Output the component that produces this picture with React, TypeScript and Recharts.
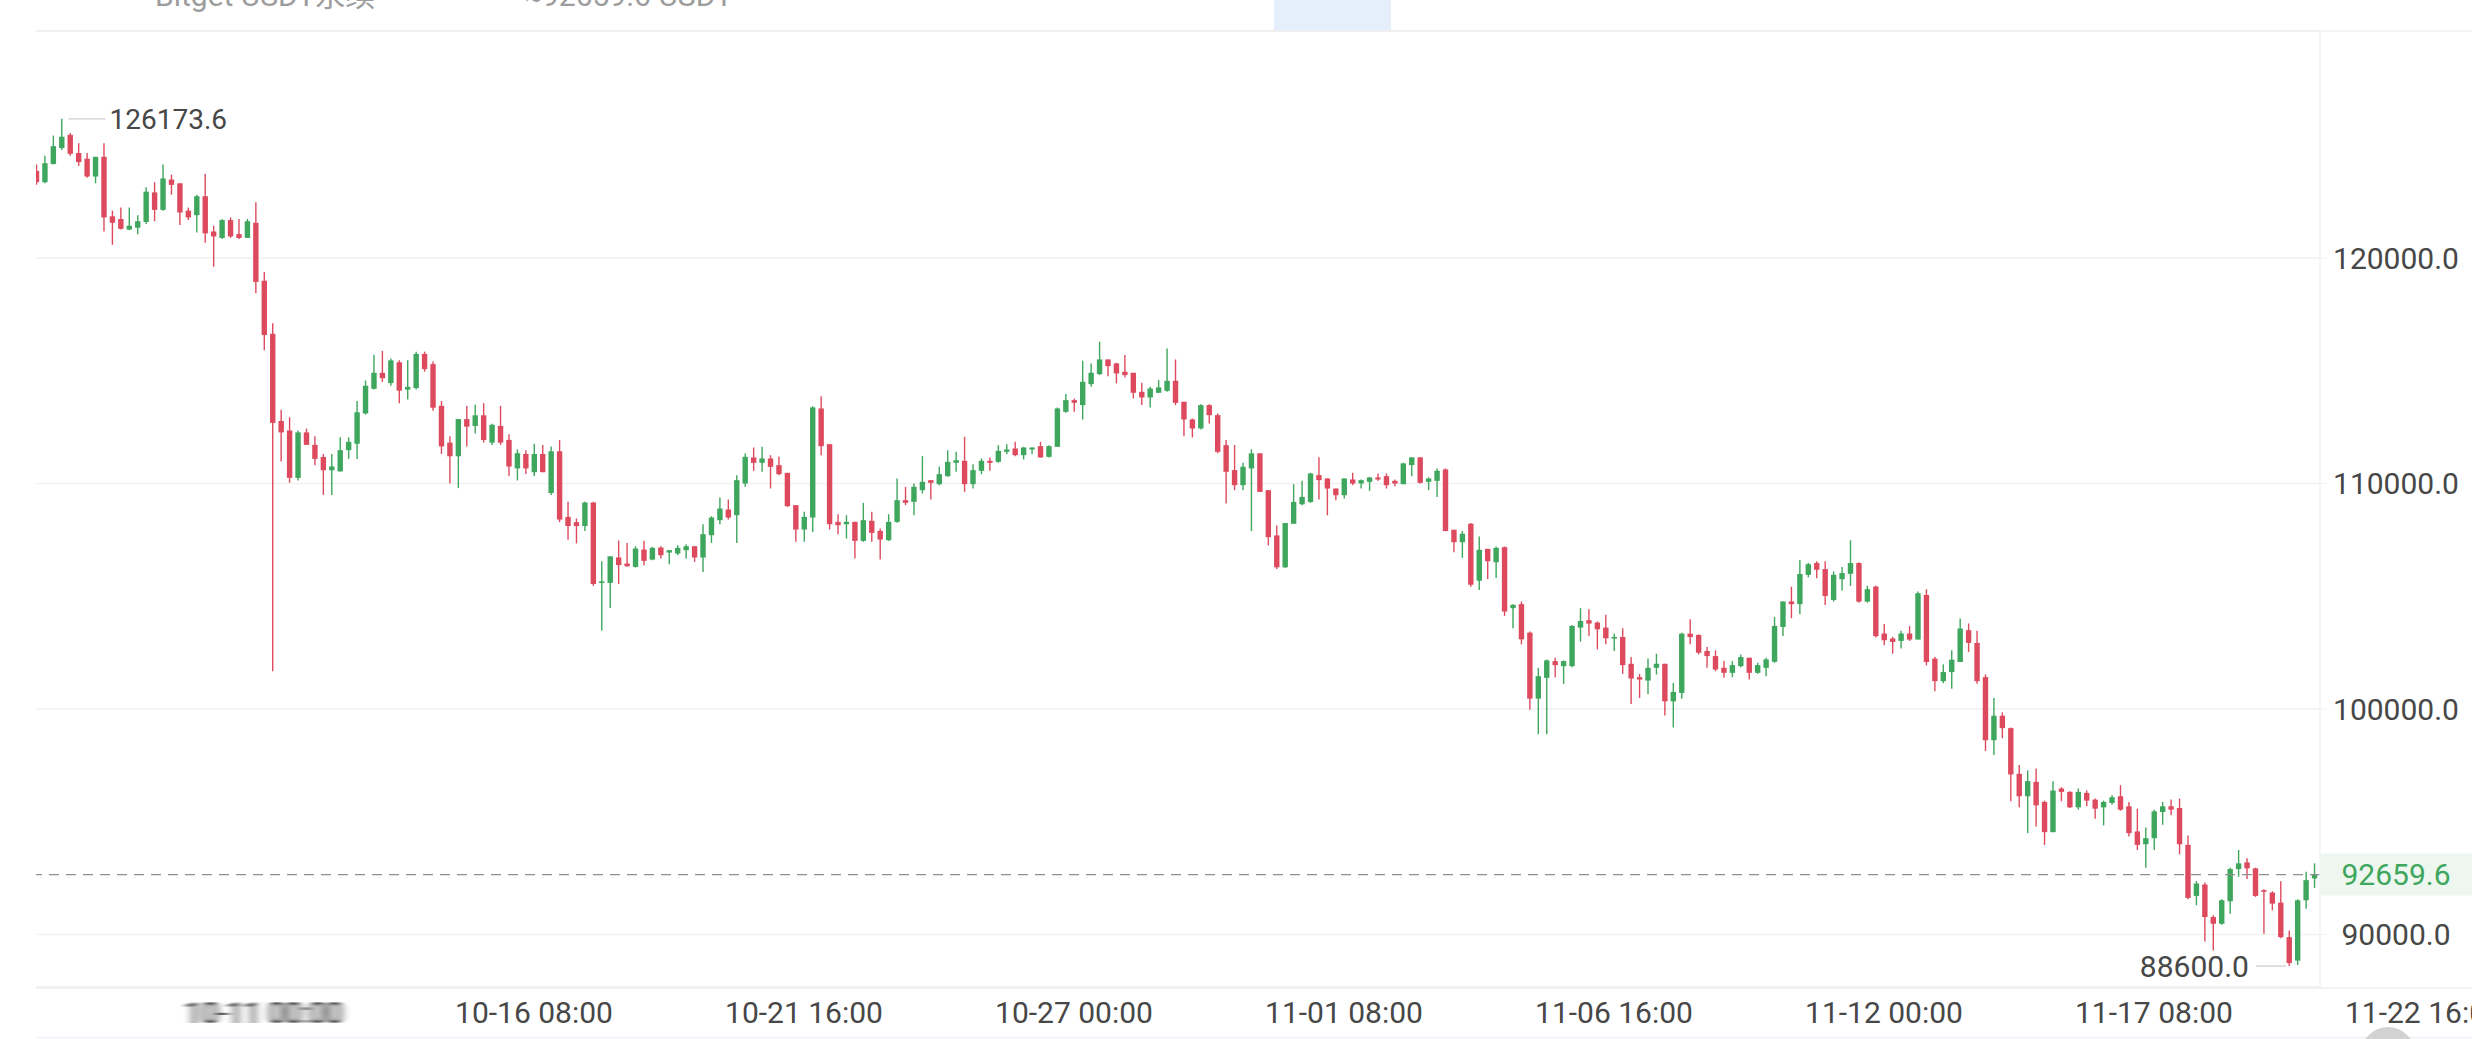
import React from 'react';
import { ComposedChart, Bar, XAxis, YAxis, CartesianGrid, ReferenceLine, ReferenceDot } from 'recharts';

// ---- data (4h candles, index 0 = 10-06 12:00) ----
const OPEN = [
  123866, 123362, 124169, 124875, 125463, 124656, 124404, 123614, 124488, 121849,
  121731, 121261, 121345, 121597, 122908, 122135, 123480, 123312, 122101, 121900,
  122740, 121177, 120891, 121681, 121059, 120891, 121563, 118991, 116638, 112772,
  112351, 110250, 112267, 111713, 111175, 110587, 110536, 111477, 111763, 113108,
  114201, 114907, 114453, 115377, 114167, 114234, 115747, 115293, 113444, 111813,
  111208, 112856, 112553, 113024, 111814, 112553, 111931, 110671, 111309, 110502,
  111309, 109578, 111427, 108519, 108284, 108115, 109158, 105594, 105594, 106720,
  106450, 106303, 107072, 106628, 107160, 106938, 106894, 107042, 107219, 106717,
  107708, 108373, 108846, 108595, 110000, 111154, 110917, 111109, 110813, 110473,
  109039, 107959, 108491, 113328, 111745, 108299, 108196, 108299, 107456, 108344,
  107900, 107486, 108299, 109261, 109187, 109704, 110148, 109970, 110325, 110917,
  111006, 109970, 110562, 111006, 110961, 111405, 111553, 111257, 111509, 111656,
  111183, 111627, 113180, 113698, 113476, 114407, 114851, 115502, 115324, 114955,
  114910, 114067, 113816, 114023, 114112, 114555, 113624, 112840, 112440, 113476,
  113032, 111700, 110594, 109926, 110669, 111337, 109703, 107697, 106285, 108217,
  109079, 109183, 110372, 110223, 109777, 109480, 110178, 110000, 110074, 110267,
  110327, 110119, 109970, 110817, 111159, 110074, 110119, 110624, 107949, 107399,
  108217, 105691, 107102, 106508, 107177, 104472, 104650, 103387, 100460, 101381,
  102124, 101901, 101901, 103610, 103937, 103833, 103610, 103135, 103194, 102005,
  101411, 101262, 101827, 102005, 100341, 100713, 103343, 103283, 102570, 102347,
  101827, 101604, 101901, 102273, 101604, 101827, 102094, 103640, 104769, 104650,
  105950, 106473, 106205, 104836, 105759, 105997, 106473, 104762, 105431, 103348,
  103125, 103020, 103348, 103080, 105059, 102232, 101235, 101637, 102083, 103497,
  102931, 101414, 98616, 99702, 99152, 97128, 96131, 96771, 95878, 94539,
  96473, 96325, 95640, 96280, 95982, 95640, 95834, 96131, 95685, 94569,
  94003, 94271, 95432, 95685, 95610, 93974, 91712, 92218, 90774, 90477,
  91474, 92902, 93200, 92932, 91965, 91861, 91414, 89882, 88840, 91518,
  92486,
];
const HIGH = [
  124152, 124539, 125430, 126173.6, 125547, 125093, 124656, 124488, 125093, 122101,
  122236, 122236, 121900, 123143, 123362, 124152, 123698, 123312, 122236, 122807,
  123732, 121429, 121731, 121799, 121731, 121731, 122471, 119378, 117109, 113276,
  112940, 112351, 112436, 112099, 111309, 111309, 112049, 112049, 113663, 114570,
  115713, 115882, 115545, 115461, 115461, 115848, 115848, 115411, 113663, 112099,
  112856, 113444, 113495, 113562, 112654, 113444, 112183, 111511, 111477, 111763,
  111713, 111645, 111932, 109191, 108452, 109191, 109191, 106552, 106770, 107477,
  107367, 107219, 107456, 107190, 107219, 107042, 107264, 107308, 107219, 108196,
  108551, 109379, 109290, 110370, 111331, 111597, 111627, 111257, 111183, 110473,
  109039, 108743, 113431, 113875, 111745, 108639, 108595, 108299, 109142, 108743,
  108003, 108639, 110222, 109852, 110000, 111213, 110148, 110740, 111479, 111405,
  112071, 110858, 111109, 111154, 111701, 111745, 111849, 111627, 111597, 111849,
  111701, 113372, 113964, 113772, 115443, 115324, 116286, 115502, 115354, 115694,
  114910, 114467, 114289, 114585, 115990, 115502, 113624, 112884, 113520, 113520,
  113100, 111932, 111709, 110921, 111516, 111337, 109703, 108143, 108247, 109970,
  110119, 110476, 111159, 110223, 109777, 110223, 110476, 110178, 110297, 110446,
  110446, 110178, 110921, 111159, 111159, 110267, 110669, 110669, 107949, 107890,
  108247, 107652, 107102, 107206, 107206, 104650, 104769, 103432, 101827, 102199,
  102273, 102154, 103729, 104472, 104428, 103880, 104175, 103343, 103580, 102303,
  101559, 102243, 102451, 102005, 101158, 103387, 103982, 103313, 102748, 102600,
  102124, 102124, 102421, 102273, 102050, 102273, 104086, 104769, 105423, 106612,
  106480, 106547, 106547, 106101, 106294, 107485, 106503, 105461, 105461, 103765,
  103199, 103467, 103675, 105208, 105312, 102306, 101979, 102604, 104018, 103794,
  103467, 101533, 100491, 99851, 99182, 97515, 97277, 97366, 95938, 96801,
  96533, 96354, 96473, 96384, 96027, 95938, 96176, 96622, 95878, 95581,
  94747, 95536, 95878, 95982, 96027, 94390, 92367, 92307, 90849, 91563,
  92962, 93750, 93378, 92962, 92010, 91920, 92367, 90179, 91563, 92783,
  93155,
];
const LOW = [
  123244, 123310, 124150, 124790, 124539, 124085, 123564, 123312, 121177, 120588,
  121261, 121227, 121059, 121513, 121631, 122101, 122807, 121462, 121681, 121126,
  120672, 119613, 120840, 120891, 120840, 120891, 118437, 115915, 101677, 110973,
  110032, 110133, 111713, 110805, 109494, 109494, 110536, 111091, 111091, 113058,
  114167, 114503, 114335, 113562, 113730, 114167, 114957, 113226, 111309, 109998,
  109796, 111646, 112217, 111814, 111713, 111713, 110334, 110133, 110418, 110334,
  110502, 109494, 108284, 107510, 107342, 107897, 105459, 103476, 104484, 105543,
  106303, 106273, 106377, 106598, 106672, 106421, 106820, 106672, 106524, 106081,
  107367, 108196, 108403, 107367, 109852, 110562, 110518, 109778, 110370, 108965,
  107412, 107412, 107855, 111257, 107959, 107752, 107560, 106672, 107412, 107412,
  106628, 107456, 108255, 109039, 108595, 109556, 109290, 109926, 110296, 110518,
  109630, 109778, 110414, 110562, 110917, 111302, 111213, 111065, 111302, 111154,
  111154, 111627, 113135, 113180, 112840, 114289, 114807, 114762, 114437, 114703,
  113771, 113476, 113372, 114023, 114067, 113476, 112100, 112041, 112396, 112662,
  111337, 109108, 109703, 109703, 107890, 109629, 107251, 106211, 106255, 108217,
  109034, 109138, 109287, 108588, 109257, 109331, 109926, 109777, 109673, 110119,
  109777, 109881, 109970, 110327, 110000, 109703, 109406, 107890, 106954, 106701,
  105423, 105275, 105765, 105810, 104130, 103580, 102867, 99970, 98885, 98885,
  101411, 101114, 101857, 102986, 103239, 102644, 102867, 102570, 101559, 100222,
  100490, 100668, 101530, 99717, 99182, 100460, 102867, 102421, 101827, 101678,
  101381, 101411, 101857, 101307, 101559, 101456, 102050, 103239, 104026, 104205,
  105840, 105803, 104613, 104762, 105253, 105461, 104717, 104717, 103169, 102827,
  102455, 102678, 103020, 103080, 101934, 100789, 101146, 100893, 102083, 102530,
  101116, 98140, 97961, 98705, 95908, 95640, 94494, 94792, 93974, 94539,
  95908, 95610, 95536, 95685, 95134, 94837, 95759, 95491, 94346, 93750,
  92962, 93750, 94866, 95283, 93557, 91563, 91295, 89688, 89286, 90432,
  90923, 92560, 92456, 91667, 90030, 91072, 89837, 88600, 88650, 91146,
  92069,
];
const CLOSE = [
  123362, 124203, 124959, 125379, 124623, 124253, 123614, 124488, 121799, 121563,
  121294, 121429, 121631, 122942, 122135, 123530, 123244, 122017, 121799, 122740,
  121093, 120958, 121681, 120958, 120891, 121631, 118941, 116588, 112688, 112267,
  110250, 112267, 111713, 111091, 110587, 110755, 111477, 111847, 113158, 114335,
  114907, 114671, 115461, 114117, 114285, 115747, 115075, 113360, 111646, 111208,
  112856, 112520, 113024, 111931, 112604, 111814, 110754, 111343, 110671, 111309,
  110502, 111427, 108401, 108115, 108115, 109158, 105543, 105661, 106770, 106384,
  106332, 107116, 106569, 107146, 106820, 107042, 107146, 107219, 106717, 107752,
  108491, 108891, 108491, 110148, 111183, 110917, 111109, 110740, 110414, 108994,
  107959, 108521, 113372, 111656, 108196, 108151, 108299, 107456, 108373, 107811,
  107515, 108299, 109261, 109142, 109852, 110074, 110030, 110414, 110961, 111035,
  109970, 110592, 111006, 110917, 111449, 111509, 111257, 111597, 111597, 111154,
  111656, 113328, 113698, 113579, 114511, 114910, 115502, 115206, 114881, 114807,
  114023, 113816, 114215, 114260, 114555, 113579, 112840, 112440, 113476, 113032,
  111405, 110520, 109926, 110743, 111337, 109629, 107622, 106285, 108247, 109183,
  109406, 110446, 110149, 109777, 109480, 110223, 110000, 110149, 110267, 110178,
  109926, 110000, 110892, 111159, 110030, 110223, 110565, 107890, 107399, 107771,
  105512, 107058, 106552, 107147, 104324, 104621, 103090, 100460, 101455, 102154,
  101946, 102124, 103685, 103907, 103789, 103536, 103135, 103194, 101946, 101351,
  101307, 101827, 102005, 100341, 100757, 103343, 103194, 102496, 102347, 101753,
  101604, 101946, 102303, 101604, 101946, 102199, 103685, 104769, 104650, 105988,
  106420, 106175, 105015, 105952, 106026, 106473, 104762, 105312, 103229, 103050,
  102976, 103348, 103080, 105134, 102083, 101235, 101637, 102187, 103571, 102931,
  101235, 98616, 99702, 99152, 97098, 96131, 96801, 95729, 94539, 96384,
  96325, 95640, 96325, 95938, 95581, 95878, 96087, 95536, 94494, 93974,
  94271, 95462, 95685, 95536, 94003, 91623, 92262, 90774, 90477, 91518,
  92902, 93155, 92932, 91712, 91920, 91370, 89882, 88736, 91518, 92411,
  92659.6,
];

const TICK_INDEX = [27, 59, 91, 123, 155, 187, 219, 251, 283];
const TICK_LABELS = ['10-11 00:00', '10-16 08:00', '10-21 16:00', '10-27 00:00', '11-01 08:00', '11-06 16:00', '11-12 00:00', '11-17 08:00', '11-22 16:00'];
const Y_TICKS = [90000, 100000, 110000, 120000];
const LAST_PRICE = 92659.6;
const HIGH_INDEX = 3;
const LOW_INDEX = 267;
const HEADER_TEXTS = ['Bitget USDT永续', '≈92659.6 USDT'];

const data = OPEN.map((o, i) => ({ i, open: o, high: HIGH[i], low: LOW[i], close: CLOSE[i] }));

const FONT = 'Roboto, "Noto Sans", "Noto Sans CJK SC", sans-serif';
const UP = '#3ea65d';
const DOWN = '#dd4a5e';
const LABEL = '#474747';
const W = 2472;
const H = 1039;

function Candle(props: any) {
  const { x, y, width, height, payload } = props;
  if (!payload || x == null) return null;
  const top = Math.min(y, y + height);
  const h = Math.abs(height);
  const { open, close, high, low } = payload;
  const cx = x + width / 2;
  const span = high - low || 1;
  const yOf = (v: number) => top + ((high - v) / span) * h;
  const up = close >= open;
  const color = up ? UP : DOWN;
  const yO = yOf(open);
  const yC = yOf(close);
  const bTop = Math.min(yO, yC);
  const bH = Math.max(Math.abs(yO - yC), 1.6);
  return (
    <g>
      <line x1={cx} x2={cx} y1={top} y2={top + h} stroke={color} strokeWidth={1.4} />
      <rect x={cx - 2.7} y={bTop} width={5.4} height={bH} fill={color} />
    </g>
  );
}

function XTick(props: any) {
  const { x, y, payload } = props;
  const k = TICK_INDEX.indexOf(payload.value);
  const label = TICK_LABELS[k];
  const blurred = k === 0;
  return (
    <g>
      {blurred && (
        <defs>
          <filter id="tickBlur" x="-20%" y="-20%" width="140%" height="140%">
            <feGaussianBlur stdDeviation="4.5 0.2" />
          </filter>
        </defs>
      )}
      <text
        x={x}
        y={y}
        dy="0.71em"
        textAnchor="middle"
        fontFamily={FONT}
        fontSize={30}
        fill={blurred ? '#111' : LABEL}
        filter={blurred ? 'url(#tickBlur)' : undefined}
      >
        {label}
      </text>
    </g>
  );
}

function YTick(props: any) {
  const { x, y, payload } = props;
  return (
    <text x={x} y={y} dy="0.36em" textAnchor="middle" fontFamily={FONT} fontSize={30} fill={LABEL}>
      {payload.value.toFixed(1)}
    </text>
  );
}

function LastPriceLabel(props: any) {
  const vb = props.viewBox || {};
  const right = vb.x + vb.width;
  const axisW = W - right;
  const cy = vb.y;
  return (
    <g>
      <rect x={right} y={cy - 21} width={axisW} height={42} fill="#edf7f0" />
      <text x={right + axisW / 2} y={cy} dy="0.36em" textAnchor="middle" fontFamily={FONT} fontSize={30} fill={UP}>
        {LAST_PRICE.toFixed(1)}
      </text>
    </g>
  );
}

function HighMark(props: any) {
  const { cx, cy } = props;
  return (
    <g>
      <line x1={cx + 7} x2={cx + 44} y1={cy} y2={cy} stroke="#cfcfcf" strokeWidth={1.3} />
      <text x={cx + 48} y={cy} dy="0.36em" fontFamily={FONT} fontSize={28} fill={LABEL}>
        {HIGH[HIGH_INDEX].toFixed(1)}
      </text>
    </g>
  );
}

function LowMark(props: any) {
  const { cx, cy } = props;
  return (
    <g>
      <line x1={cx - 33} x2={cx - 3} y1={cy} y2={cy} stroke="#cfcfcf" strokeWidth={1.3} />
      <text x={cx - 40} y={cy} dy="0.36em" textAnchor="end" fontFamily={FONT} fontSize={30} fill={LABEL}>
        {LOW[LOW_INDEX].toFixed(1)}
      </text>
    </g>
  );
}

export default function App() {
  return (
    <div style={{ position: 'absolute', left: 0, top: 0, width: W, height: H, background: '#fff', overflow: 'hidden' }}>
      <ComposedChart width={W} height={H} data={data} margin={{ top: 31, right: 0, left: 36, bottom: 0 }}>
        <CartesianGrid horizontal vertical={false} stroke="#f1f1f1" strokeWidth={1.3} />
        <XAxis
          dataKey="i"
          type="number"
          domain={[-0.024, 270.68]}
          allowDataOverflow
          ticks={TICK_INDEX}
          interval={0}
          height={52}
          axisLine={false}
          tickLine={false}
          tickSize={0}
          tickMargin={15}
          tick={<XTick />}
        />
        <YAxis
          orientation="right"
          width={152}
          domain={[87672, 130067]}
          allowDataOverflow
          ticks={Y_TICKS}
          interval={0}
          axisLine={false}
          tickLine={{ stroke: '#f1f1f1' }}
          tickSize={7}
          tickMargin={69}
          tick={<YTick />}
        />
        <ReferenceLine y={LAST_PRICE} stroke="#8f8f8f" strokeDasharray="10 7" strokeWidth={1.3} label={<LastPriceLabel />} />
        <Bar dataKey={(d: any) => [d.low, d.high]} shape={<Candle />} barSize={7} isAnimationActive={false} />
        <ReferenceDot x={HIGH_INDEX} y={HIGH[HIGH_INDEX]} r={0} shape={<HighMark />} />
        <ReferenceDot x={LOW_INDEX} y={LOW[LOW_INDEX]} r={0} shape={<LowMark />} />
      </ComposedChart>
      <svg width={W} height={H} style={{ position: 'absolute', left: 0, top: 0, pointerEvents: 'none' }}>
        <rect x={1274} y={0} width={117} height={31} fill="#e5effc" />
        <text x={155} y={6} fontFamily={FONT} fontSize={30} fill="#9c9c9c">{HEADER_TEXTS[0]}</text>
        <text x={525} y={6} fontFamily={FONT} fontSize={30} fill="#9c9c9c">{HEADER_TEXTS[1]}</text>
        <line x1={36} x2={W} y1={31} y2={31} stroke="#efefef" strokeWidth={1.5} />
        <line x1={2320} x2={2320} y1={31} y2={988} stroke="#eef3f9" strokeWidth={1.5} />
        <line x1={36} x2={W} y1={988} y2={988} stroke="#efefef" strokeWidth={1.5} />
        <line x1={36} x2={W} y1={1037.5} y2={1037.5} stroke="#eef3f9" strokeWidth={1.5} />
        <circle cx={2388} cy={1054} r={27} fill="#d2d2d2" />
      </svg>
    </div>
  );
}
